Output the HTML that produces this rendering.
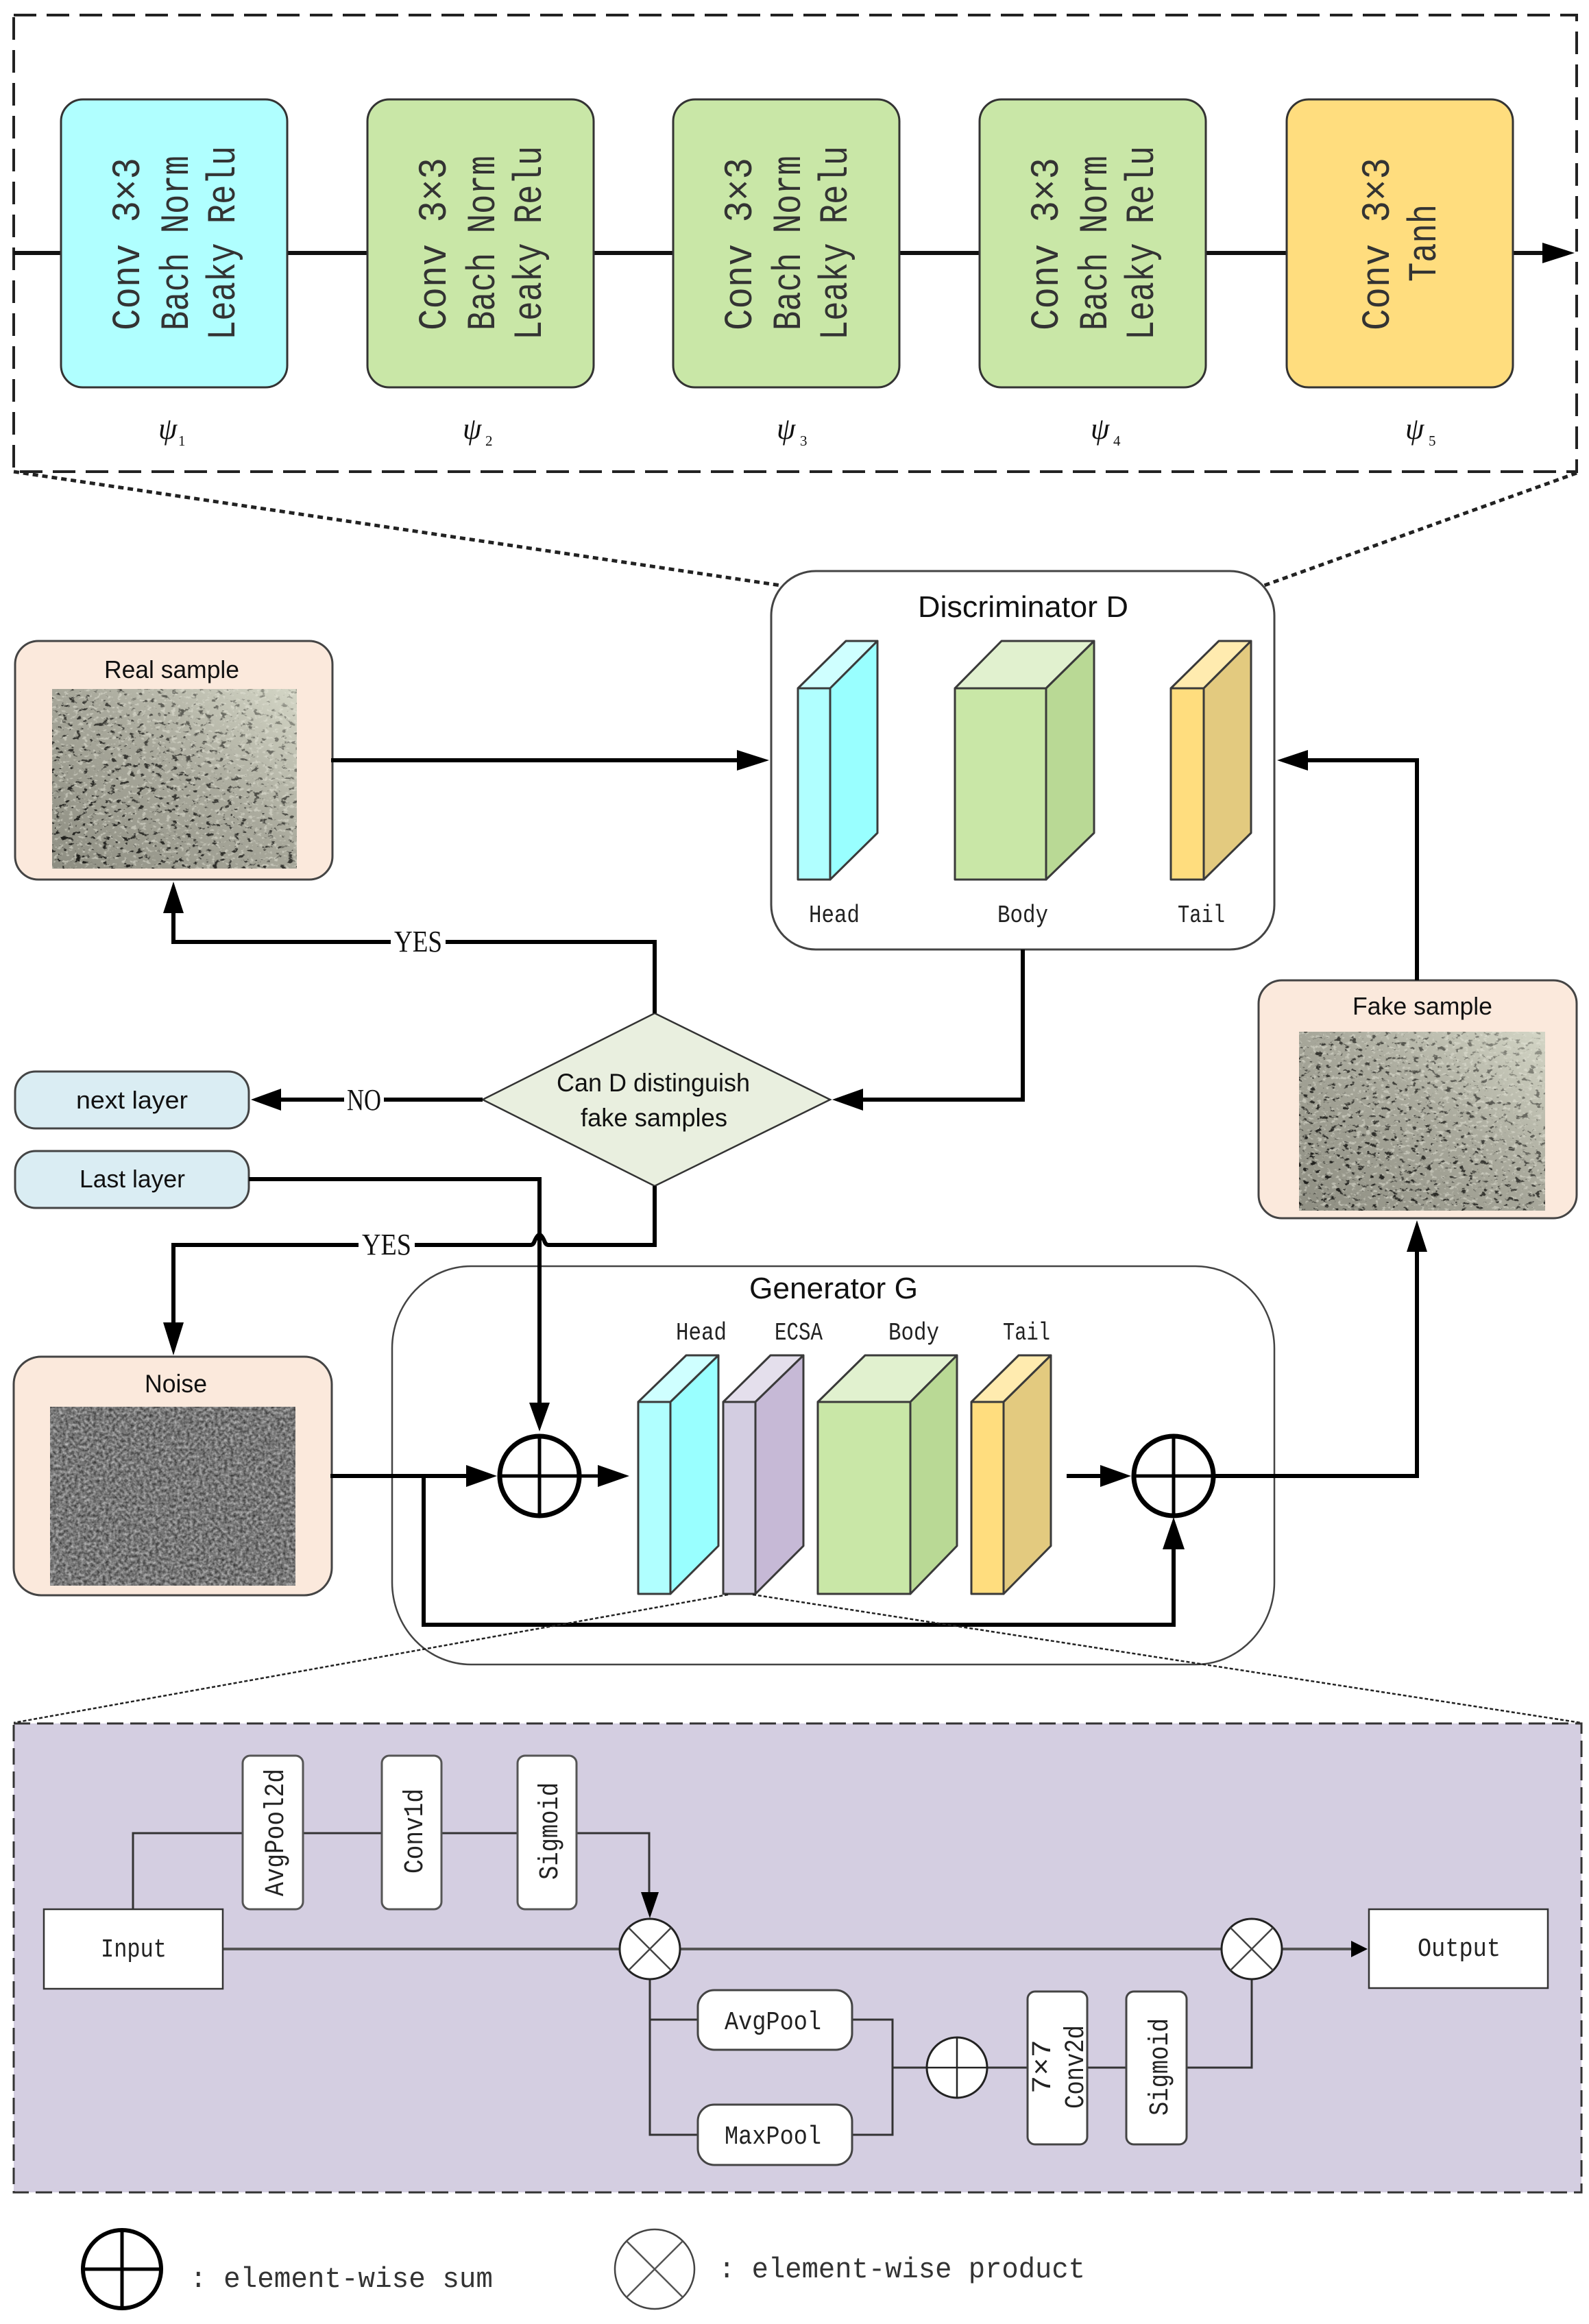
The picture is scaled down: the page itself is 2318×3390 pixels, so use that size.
<!DOCTYPE html>
<html lang="en">
<head>
<meta charset="utf-8">
<title>Diagram</title>
<style>
html,body{margin:0;padding:0;background:#fff;width:2318px;height:3390px;overflow:hidden}
svg{display:block}
.m{font-family:"Liberation Mono",monospace;fill:#222}
.s{font-family:"Liberation Sans",sans-serif;fill:#111}
.r{font-family:"Liberation Serif",serif;fill:#111}
.b{font-family:"Liberation Mono",monospace;font-size:58px;fill:#333}
.w{fill:none;stroke:#000;stroke-width:6}
</style>
</head>
<body>
<svg xmlns="http://www.w3.org/2000/svg" width="2318" height="3390" viewBox="0 0 2318 3390">
<defs>
<linearGradient id="rg" x1="0" y1="1" x2="1" y2="0">
<stop offset="0" stop-color="#8e8e82"/><stop offset=".55" stop-color="#a9a99c"/><stop offset="1" stop-color="#d4d6c6"/>
</linearGradient>
<linearGradient id="fade" x1="0" y1="1" x2="1" y2="0">
<stop offset="0" stop-color="#fff"/><stop offset=".5" stop-color="#ccc"/><stop offset="1" stop-color="#444"/>
</linearGradient>
<mask id="m1" maskUnits="userSpaceOnUse" x="76" y="1005" width="357" height="262"><rect x="76" y="1005" width="357" height="262" fill="url(#fade)"/></mask>
<mask id="m2" maskUnits="userSpaceOnUse" x="1895" y="1505" width="359" height="261"><rect x="1895" y="1505" width="359" height="261" fill="url(#fade)"/></mask>
<filter id="dark" x="0" y="0" width="1" height="1" color-interpolation-filters="sRGB">
<feTurbulence type="fractalNoise" baseFrequency="0.1 0.15" numOctaves="4" seed="7"/>
<feColorMatrix type="matrix" values="0 0 0 0 .1  0 0 0 0 .1  0 0 0 0 .09  9 0 0 0 -5.5"/>
</filter>
<filter id="light" x="0" y="0" width="1" height="1" color-interpolation-filters="sRGB">
<feTurbulence type="fractalNoise" baseFrequency="0.14 0.2" numOctaves="3" seed="21"/>
<feColorMatrix type="matrix" values="0 0 0 0 .9  0 0 0 0 .9  0 0 0 0 .85  0 7 0 0 -4"/>
</filter>
<filter id="grain" x="0" y="0" width="1" height="1" color-interpolation-filters="sRGB">
<feTurbulence type="fractalNoise" baseFrequency="0.22" numOctaves="2" seed="5"/>
<feColorMatrix type="matrix" values=".7 0 0 0 .12  .7 0 0 0 .12  .7 0 0 0 .12  0 0 0 0 1"/>
</filter>
</defs>

<!-- top dashed panel -->
<rect x="20" y="22" width="2280" height="666" fill="none" stroke="#222" stroke-width="4" stroke-dasharray="33 15"/>
<path d="M20 369H89M419 369H536M866 369H982M1312 369H1429M1759 369H1877M2207 369H2255" fill="none" stroke="#111" stroke-width="6"/>
<path d="M2297 369L2250 354V384Z" fill="#000"/>

<rect x="89" y="145" width="330" height="420" rx="32" fill="#B0FFFF" stroke="#333" stroke-width="3"/>
<rect x="536" y="145" width="330" height="420" rx="32" fill="#C9E7A7" stroke="#333" stroke-width="3"/>
<rect x="982" y="145" width="330" height="420" rx="32" fill="#C9E7A7" stroke="#333" stroke-width="3"/>
<rect x="1429" y="145" width="330" height="420" rx="32" fill="#C9E7A7" stroke="#333" stroke-width="3"/>
<rect x="1877" y="145" width="330" height="420" rx="32" fill="#FFDD7E" stroke="#333" stroke-width="3"/>

<text class="b" transform="translate(203,482) rotate(-90)" textLength="252" lengthAdjust="spacingAndGlyphs">Conv 3×3</text>
<text class="b" transform="translate(274,482) rotate(-90)" textLength="255" lengthAdjust="spacingAndGlyphs">Bach Norm</text>
<text class="b" transform="translate(342,496) rotate(-90)" textLength="283" lengthAdjust="spacingAndGlyphs">Leaky Relu</text>
<text class="b" transform="translate(650,482) rotate(-90)" textLength="252" lengthAdjust="spacingAndGlyphs">Conv 3×3</text>
<text class="b" transform="translate(721,482) rotate(-90)" textLength="255" lengthAdjust="spacingAndGlyphs">Bach Norm</text>
<text class="b" transform="translate(789,496) rotate(-90)" textLength="283" lengthAdjust="spacingAndGlyphs">Leaky Relu</text>
<text class="b" transform="translate(1096,482) rotate(-90)" textLength="252" lengthAdjust="spacingAndGlyphs">Conv 3×3</text>
<text class="b" transform="translate(1167,482) rotate(-90)" textLength="255" lengthAdjust="spacingAndGlyphs">Bach Norm</text>
<text class="b" transform="translate(1235,496) rotate(-90)" textLength="283" lengthAdjust="spacingAndGlyphs">Leaky Relu</text>
<text class="b" transform="translate(1543,482) rotate(-90)" textLength="252" lengthAdjust="spacingAndGlyphs">Conv 3×3</text>
<text class="b" transform="translate(1614,482) rotate(-90)" textLength="255" lengthAdjust="spacingAndGlyphs">Bach Norm</text>
<text class="b" transform="translate(1682,496) rotate(-90)" textLength="283" lengthAdjust="spacingAndGlyphs">Leaky Relu</text>
<text class="b" transform="translate(2026,482) rotate(-90)" textLength="252" lengthAdjust="spacingAndGlyphs">Conv 3×3</text>
<text class="b" transform="translate(2094,411) rotate(-90)" textLength="113" lengthAdjust="spacingAndGlyphs">Tanh</text>

<g class="r" font-style="italic" font-size="44">
<text x="231" y="640">ψ</text><text x="260" y="650" font-size="21" font-style="normal">1</text>
<text x="675" y="640">ψ</text><text x="708" y="650" font-size="21" font-style="normal">2</text>
<text x="1133" y="640">ψ</text><text x="1167" y="650" font-size="21" font-style="normal">3</text>
<text x="1591" y="640">ψ</text><text x="1624" y="650" font-size="21" font-style="normal">4</text>
<text x="2050" y="640">ψ</text><text x="2084" y="650" font-size="21" font-style="normal">5</text>
</g>

<!-- zoom lines top -->
<path d="M20 688L1139 854" fill="none" stroke="#222" stroke-width="5" stroke-dasharray="8 6"/>
<path d="M2300 690L1844 854" fill="none" stroke="#222" stroke-width="5" stroke-dasharray="8 6"/>

<!-- Discriminator -->
<rect x="1125" y="833" width="734" height="552" rx="65" fill="#fff" stroke="#444" stroke-width="3"/>
<text class="s" x="1339" y="900" font-size="44" textLength="307" lengthAdjust="spacingAndGlyphs">Discriminator D</text>

<g stroke="#3a3a3a" stroke-width="3" stroke-linejoin="round">
<path d="M1164 1004L1234 935H1280L1211 1004Z" fill="#CFFFFF"/>
<path d="M1211 1004L1280 935V1215L1211 1283Z" fill="#99FFFF"/>
<rect x="1164" y="1004" width="47" height="279" fill="#B0FFFF"/>
<path d="M1393 1004L1461 935H1596L1526 1004Z" fill="#E1F1CF"/>
<path d="M1526 1004L1596 935V1215L1526 1283Z" fill="#B9D995"/>
<rect x="1393" y="1004" width="133" height="279" fill="#C9E7A7"/>
<path d="M1708 1004L1778 935H1825L1756 1004Z" fill="#FFEBAF"/>
<path d="M1756 1004L1825 935V1215L1756 1283Z" fill="#E3CA7F"/>
<rect x="1708" y="1004" width="48" height="279" fill="#FFDD7E"/>
</g>
<text class="m" x="1180" y="1345" font-size="36" textLength="74" lengthAdjust="spacingAndGlyphs">Head</text>
<text class="m" x="1455" y="1345" font-size="36" textLength="74" lengthAdjust="spacingAndGlyphs">Body</text>
<text class="m" x="1718" y="1345" font-size="36" textLength="69" lengthAdjust="spacingAndGlyphs">Tail</text>

<!-- Real sample -->
<rect x="22" y="935" width="463" height="348" rx="34" fill="#FBE9DC" stroke="#444" stroke-width="3"/>
<text class="s" x="152" y="989" font-size="36" textLength="197" lengthAdjust="spacingAndGlyphs">Real sample</text>
<rect x="76" y="1005" width="357" height="262" fill="url(#rg)"/>
<rect x="76" y="1005" width="357" height="262" filter="url(#light)" opacity=".5"/>
<g mask="url(#m1)"><rect x="76" y="1005" width="357" height="262" filter="url(#dark)"/></g>

<!-- Fake sample -->
<rect x="1836" y="1430" width="464" height="347" rx="34" fill="#FBE9DC" stroke="#444" stroke-width="3"/>
<text class="s" x="1973" y="1480" font-size="36" textLength="204" lengthAdjust="spacingAndGlyphs">Fake sample</text>
<rect x="1895" y="1505" width="359" height="261" fill="url(#rg)"/>
<rect x="1895" y="1505" width="359" height="261" filter="url(#light)" opacity=".5"/>
<g mask="url(#m2)"><rect x="1895" y="1505" width="359" height="261" filter="url(#dark)"/></g>

<!-- arrows to D -->
<path d="M483 1109H1080" class="w"/>
<path d="M1122 1109L1075 1094V1124Z" fill="#000"/>
<path d="M2067 1430V1109H1905" class="w"/>
<path d="M1863 1109L1908 1094V1124Z" fill="#000"/>
<path d="M2067 2153V1820" class="w"/>
<path d="M2067 1780L2052 1826H2082Z" fill="#000"/>
<path d="M1492 1385V1604H1255" class="w"/>
<path d="M1214 1604L1259 1588V1620Z" fill="#000"/>

<!-- Decision -->
<path d="M955 1478L1211 1604L955 1730L704 1604Z" fill="#E9EFDF" stroke="#333" stroke-width="2.5"/>
<text class="s" x="812" y="1592" font-size="37" textLength="282" lengthAdjust="spacingAndGlyphs">Can D distinguish</text>
<text class="s" x="847" y="1643" font-size="37" textLength="214" lengthAdjust="spacingAndGlyphs">fake samples</text>

<path d="M955 1478V1374H253V1325" class="w"/>
<path d="M253 1286L238 1332H268Z" fill="#000"/>
<rect x="570" y="1350" width="80" height="44" fill="#fff"/>
<text class="r" x="575" y="1388" font-size="44" textLength="70" lengthAdjust="spacingAndGlyphs">YES</text>

<path d="M704 1604H405" class="w"/>
<path d="M366 1604L410 1588V1620Z" fill="#000"/>
<rect x="502" y="1580" width="58" height="44" fill="#fff"/>
<text class="r" x="506" y="1619" font-size="44" textLength="50" lengthAdjust="spacingAndGlyphs">NO</text>

<rect x="22" y="1563" width="341" height="83" rx="30" fill="#DAEDF3" stroke="#444" stroke-width="3"/>
<text class="s" x="111" y="1617" font-size="36" textLength="163" lengthAdjust="spacingAndGlyphs">next layer</text>
<rect x="22" y="1679" width="341" height="83" rx="30" fill="#DAEDF3" stroke="#444" stroke-width="3"/>
<text class="s" x="116" y="1732" font-size="36" textLength="154" lengthAdjust="spacingAndGlyphs">Last layer</text>

<path d="M955 1730V1816H800Q796 1816 794 1810Q790 1801 787 1801Q784 1801 780 1810Q778 1816 774 1816H253V1935" class="w"/>
<path d="M253 1977L238 1929H268Z" fill="#000"/>
<rect x="523" y="1792" width="82" height="44" fill="#fff"/>
<text class="r" x="528" y="1830" font-size="44" textLength="72" lengthAdjust="spacingAndGlyphs">YES</text>

<!-- Noise -->
<rect x="20" y="1979" width="464" height="348" rx="40" fill="#FBE9DC" stroke="#444" stroke-width="3"/>
<text class="s" x="211" y="2031" font-size="37" textLength="91" lengthAdjust="spacingAndGlyphs">Noise</text>
<rect x="73" y="2052" width="358" height="261" fill="#777" filter="url(#grain)"/>

<!-- Generator -->
<rect x="572" y="1847" width="1287" height="581" rx="115" ry="120" fill="none" stroke="#444" stroke-width="2.5"/>
<text class="s" x="1093" y="1894" font-size="44" textLength="246" lengthAdjust="spacingAndGlyphs">Generator G</text>
<g class="m">
<text x="986" y="1954" font-size="36" textLength="74" lengthAdjust="spacingAndGlyphs">Head</text>
<text x="1130" y="1954" font-size="36" textLength="70" lengthAdjust="spacingAndGlyphs">ECSA</text>
<text x="1296" y="1954" font-size="36" textLength="74" lengthAdjust="spacingAndGlyphs">Body</text>
<text x="1463" y="1954" font-size="36" textLength="69" lengthAdjust="spacingAndGlyphs">Tail</text>
</g>

<g stroke="#3a3a3a" stroke-width="3" stroke-linejoin="round">
<path d="M931 2045L1001 1977H1048L978 2045Z" fill="#CFFFFF"/>
<path d="M978 2045L1048 1977V2255L978 2325Z" fill="#99FFFF"/>
<rect x="931" y="2045" width="47" height="280" fill="#B0FFFF"/>
<path d="M1055 2045L1124 1977H1172L1102 2045Z" fill="#E4DFEC"/>
<path d="M1102 2045L1172 1977V2255L1102 2325Z" fill="#C6B9D6"/>
<rect x="1055" y="2045" width="47" height="280" fill="#D3CDE1"/>
<path d="M1193 2045L1262 1977H1396L1328 2045Z" fill="#E1F1CF"/>
<path d="M1328 2045L1396 1977V2255L1328 2325Z" fill="#B9D995"/>
<rect x="1193" y="2045" width="135" height="280" fill="#C9E7A7"/>
<path d="M1417 2045L1486 1977H1533L1464 2045Z" fill="#FFEBAF"/>
<path d="M1464 2045L1533 1977V2255L1464 2325Z" fill="#E3CA7F"/>
<rect x="1417" y="2045" width="47" height="280" fill="#FFDD7E"/>
</g>

<!-- Generator connectors -->
<path d="M363 1720H787V2050" class="w"/>
<path d="M787 2088L772 2046H802Z" fill="#000"/>
<path d="M482 2153H690" class="w"/>
<path d="M725 2153L680 2137V2169Z" fill="#000"/>
<circle cx="787" cy="2153" r="58" fill="none" stroke="#000" stroke-width="7"/>
<path d="M787 2095V2211M729 2153H880" fill="none" stroke="#000" stroke-width="5"/>
<path d="M918 2153L872 2137V2169Z" fill="#000"/>
<path d="M618 2153V2370H1712V2255" class="w"/>
<path d="M1712 2213L1696 2260H1728Z" fill="#000"/>
<path d="M1556 2153H1615" class="w"/>
<path d="M1650 2153L1605 2137V2169Z" fill="#000"/>
<circle cx="1712" cy="2153" r="58" fill="none" stroke="#000" stroke-width="7"/>
<path d="M1712 2095V2211M1654 2153H2067" fill="none" stroke="#000" stroke-width="5"/>
<path d="M1770 2153H2070" class="w"/>

<!-- zoom lines lower -->
<path d="M1062 2326L20 2513" fill="none" stroke="#222" stroke-width="2.5" stroke-dasharray="5 3"/>
<path d="M1098 2326L2306 2513" fill="none" stroke="#222" stroke-width="2.5" stroke-dasharray="5 3"/>

<!-- ECSA panel -->
<rect x="20" y="2514" width="2287" height="684" fill="#D4CEE1" stroke="#333" stroke-width="3" stroke-dasharray="24 10"/>

<path d="M194 2785V2674H947V2765" fill="none" stroke="#333" stroke-width="3"/>
<path d="M948 2798L935 2760H961Z" fill="#000"/>
<path d="M325 2843H1782M1870 2843H1975" fill="none" stroke="#555" stroke-width="4"/>
<path d="M1995 2843L1971 2831V2855Z" fill="#000"/>
<path d="M948 2886V3114H1018M948 2946H1018M1243 2946H1302V3114H1243M1302 3016H1353M1440 3016H1499M1586 3016H1643M1731 3016H1826V2886" fill="none" stroke="#333" stroke-width="3"/>

<rect x="64" y="2785" width="261" height="116" fill="#fff" stroke="#333" stroke-width="2.5"/>
<text class="m" x="147" y="2854" font-size="38" textLength="96" lengthAdjust="spacingAndGlyphs">Input</text>
<rect x="1997" y="2785" width="261" height="115" fill="#fff" stroke="#333" stroke-width="2.5"/>
<text class="m" x="2068" y="2853" font-size="38" textLength="121" lengthAdjust="spacingAndGlyphs">Output</text>

<rect x="354" y="2561" width="88" height="224" rx="11" fill="#fff" stroke="#555" stroke-width="3"/>
<text class="m" transform="translate(413,2766) rotate(-90)" font-size="40" textLength="186" lengthAdjust="spacingAndGlyphs">AvgPool2d</text>
<rect x="557" y="2561" width="87" height="224" rx="11" fill="#fff" stroke="#555" stroke-width="3"/>
<text class="m" transform="translate(616,2733) rotate(-90)" font-size="40" textLength="124" lengthAdjust="spacingAndGlyphs">Conv1d</text>
<rect x="755" y="2561" width="86" height="224" rx="11" fill="#fff" stroke="#555" stroke-width="3"/>
<text class="m" transform="translate(813,2742) rotate(-90)" font-size="40" textLength="142" lengthAdjust="spacingAndGlyphs">Sigmoid</text>

<rect x="1018" y="2903" width="225" height="87" rx="24" fill="#fff" stroke="#444" stroke-width="3"/>
<text class="m" x="1057" y="2960" font-size="38" textLength="141" lengthAdjust="spacingAndGlyphs">AvgPool</text>
<rect x="1018" y="3070" width="225" height="88" rx="24" fill="#fff" stroke="#444" stroke-width="3"/>
<text class="m" x="1057" y="3127" font-size="38" textLength="141" lengthAdjust="spacingAndGlyphs">MaxPool</text>

<rect x="1499" y="2905" width="87" height="223" rx="11" fill="#fff" stroke="#444" stroke-width="3"/>
<text class="m" transform="translate(1532,3054) rotate(-90)" font-size="40" textLength="79" lengthAdjust="spacingAndGlyphs">7×7</text>
<text class="m" transform="translate(1580,3076) rotate(-90)" font-size="40" textLength="122" lengthAdjust="spacingAndGlyphs">Conv2d</text>
<rect x="1643" y="2905" width="88" height="223" rx="11" fill="#fff" stroke="#444" stroke-width="3"/>
<text class="m" transform="translate(1703,3086) rotate(-90)" font-size="40" textLength="142" lengthAdjust="spacingAndGlyphs">Sigmoid</text>

<circle cx="948" cy="2843" r="44" fill="#fff" stroke="#222" stroke-width="3"/>
<path d="M917 2812L979 2874M979 2812L917 2874" stroke="#444" stroke-width="2.5"/>
<circle cx="1826" cy="2843" r="44" fill="#fff" stroke="#222" stroke-width="3"/>
<path d="M1795 2812L1857 2874M1857 2812L1795 2874" stroke="#444" stroke-width="2.5"/>
<circle cx="1396" cy="3016" r="44" fill="#fff" stroke="#222" stroke-width="3"/>
<path d="M1396 2972V3060M1352 3016H1440" stroke="#222" stroke-width="2.5"/>

<!-- legend -->
<circle cx="178" cy="3310" r="57" fill="none" stroke="#000" stroke-width="6"/>
<path d="M178 3253V3367M121 3310H235" stroke="#000" stroke-width="5"/>
<text class="m" x="277" y="3336" font-size="42" textLength="442" lengthAdjust="spacingAndGlyphs" style="fill:#333">: element-wise sum</text>
<circle cx="955" cy="3310" r="58" fill="none" stroke="#444" stroke-width="2.5"/>
<path d="M914 3269L996 3351M996 3269L914 3351" stroke="#555" stroke-width="2.5"/>
<text class="m" x="1048" y="3322" font-size="42" textLength="535" lengthAdjust="spacingAndGlyphs" style="fill:#333">: element-wise product</text>
</svg>
</body>
</html>
